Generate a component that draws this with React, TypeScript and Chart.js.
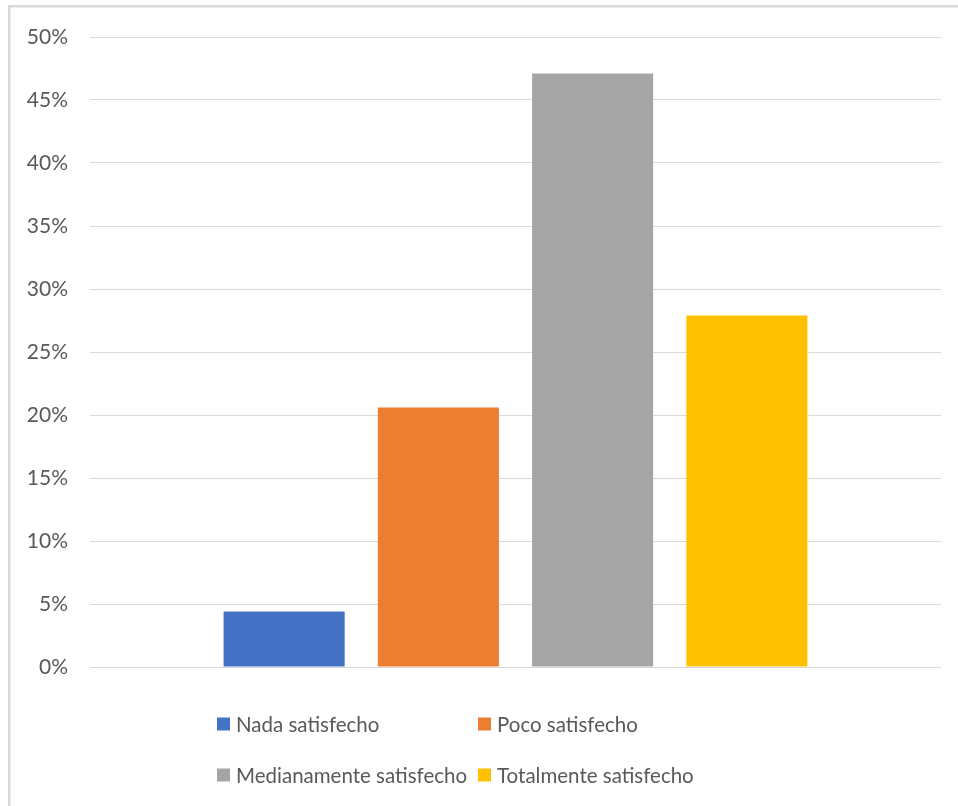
import React, { useEffect, useRef } from "react";
import { Chart, registerables } from "chart.js";

Chart.register(...registerables);

const categories: string[] = [""];
const seriesNames: string[] = [
  "Nada satisfecho",
  "Poco satisfecho",
  "Medianamente satisfecho",
  "Totalmente satisfecho",
];
const seriesValues: number[] = [4.4, 20.6, 47.1, 27.9];
const seriesColors: string[] = ["#4472C4", "#ED7D31", "#A5A5A5", "#FFC000"];
const yTickMax = 50;
const yTickStep = 5;

const FONT = "Lato";
const TEXT = "#595959";

const framePlugin = {
  id: "frame",
  beforeDraw(chart: any) {
    const ctx = chart.ctx;
    ctx.save();
    ctx.fillStyle = "#ffffff";
    ctx.fillRect(0, 0, chart.width, chart.height);
    ctx.strokeStyle = "#d9d9d9";
    ctx.lineWidth = 2.5;
    ctx.strokeRect(9.25, 6.25, chart.width + 50, chart.height + 50);
    ctx.restore();
  },
};

const legendPlugin = {
  id: "gridLegend",
  afterDraw(chart: any) {
    const ctx = chart.ctx;
    const cols = [217, 478];
    const rows = [724, 775];
    ctx.save();
    ctx.font = `20.5px ${FONT}`;
    ctx.textBaseline = "middle";
    ctx.textAlign = "left";
    chart.data.datasets.forEach((ds: any, i: number) => {
      const x = cols[i % 2];
      const y = rows[Math.floor(i / 2)];
      ctx.fillStyle = ds.backgroundColor;
      ctx.fillRect(x, y - 6.5, 13, 13);
      ctx.fillStyle = TEXT;
      ctx.fillText(ds.label, x + 19, y + 1);
    });
    ctx.restore();
  },
};

export default function App() {
  const ref = useRef<HTMLCanvasElement | null>(null);
  useEffect(() => {
    if (!ref.current) return;
    const chart = new Chart(ref.current, {
      type: "bar",
      data: {
        labels: categories,
        datasets: seriesNames.map((name, i) => ({
          label: name,
          data: [seriesValues[i]],
          backgroundColor: seriesColors[i],
          borderWidth: 0,
          categoryPercentage: 0.725,
          barPercentage: 0.785,
        })),
      },
      options: {
        responsive: false,
        animation: false,
        devicePixelRatio: 1,
        layout: { padding: { top: 37, right: 17, bottom: 139, left: 0 } },
        plugins: {
          legend: { display: false },
          tooltip: { enabled: false },
        },
        scales: {
          x: {
            display: false,
          },
          y: {
            min: 0,
            max: yTickMax,
            ticks: {
              stepSize: yTickStep,
              padding: 22,
              color: TEXT,
              font: { family: FONT, size: 21 },
              callback: (v: any) => `${v}%`,
            },
            grid: { color: "#d9d9d9", lineWidth: 1, drawTicks: false },
            border: { display: false },
            afterFit: (scale: any) => {
              scale.width = 90;
            },
          },
        },
      },
      plugins: [framePlugin, legendPlugin],
    });
    return () => chart.destroy();
  }, []);
  return (
    <div style={{ position: "absolute", left: 0, top: 0, width: 958, height: 806, overflow: "hidden" }}>
      <canvas ref={ref} width={958} height={806} style={{ display: "block" }} />
    </div>
  );
}
